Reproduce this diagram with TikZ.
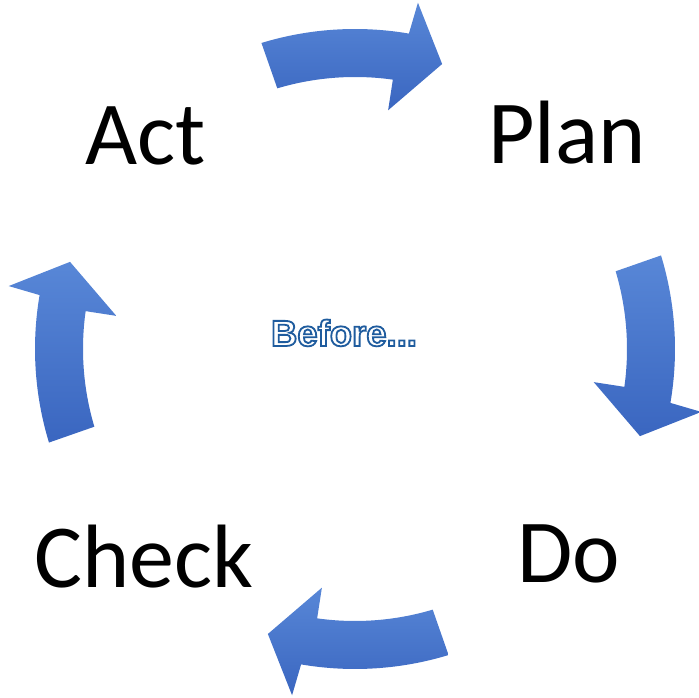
\documentclass[tikz,border=0pt]{standalone}
\usepackage{fontspec}
\setmainfont{Carlito}
% stroked (fake bold) face for the middle word
\newfontfamily\beforefont[FakeBold=5]{Liberation Sans Bold}
\usetikzlibrary{calc}

\definecolor{arrowtop}{RGB}{88,135,215}
\definecolor{arrowbot}{RGB}{58,102,192}

% outlined text: white fill, blue rim
\newcommand{\rimtext}[1]{%
  \special{pdf:bcolor [1 1 1] [0.12 0.36 0.62]}#1\special{pdf:ecolor}}

\tikzset{
  cyclearrow/.style={top color=arrowtop, bottom color=arrowbot, draw=none},
  stepword/.style={font=\fontsize{90}{90}\selectfont, anchor=base, inner sep=0pt},
}

\begin{document}
\begin{tikzpicture}[x=1pt,y=1pt]
  \useasboundingbox (0,0) rectangle (699,698);
  % centre of the cycle
  \coordinate (c) at (355,349);
  % outer and inner radius of the arrow bodies
  \def\ro{320}
  \def\ri{272}

  % four curved arrows, turned by a quarter each time
  \begin{scope}[shift={(c)}]
    \foreach \r in {0,-90,-180,-270}{
      \shade[cyclearrow] ({\r+107}:\ro) arc[start angle=\r+107, end angle=\r+80.3, radius=\ro]
        -- ({\r+79.7}:352) -- ({\r+73}:298) -- ({\r+82.1}:241) -- ({\r+82}:\ri)
        arc[start angle=\r+82, end angle=\r+106.6, radius=\ri] -- cycle;
    }
  \end{scope}

  % the four steps
  \node[stepword] (act) at (145.5,533) {Act};
  \node[stepword] (plan) at (567,534) {Plan};
  \node[stepword] (do) at (569,115) {Do};
  \node[stepword] (check) at (144,110) {Check};

  % outlined word in the middle
  \node[anchor=base, inner sep=0pt, font=\beforefont\fontsize{36.5}{36.5}\selectfont] (before) at (344,352)
    {\rimtext{Before...}};
\end{tikzpicture}
\end{document}
